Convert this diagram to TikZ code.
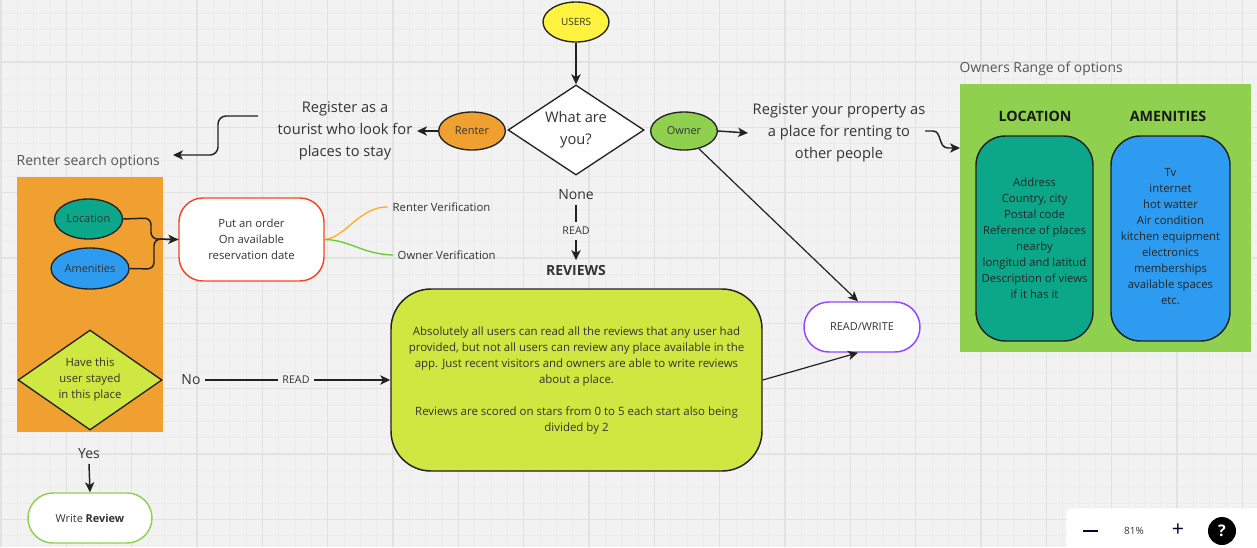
\documentclass[tikz,border=0pt]{standalone}
\usepackage{fontspec}
\setmainfont{Open Sans}
\usetikzlibrary{shapes.geometric,arrows.meta}
\definecolor{bg}{HTML}{F2F2F2}
\definecolor{gminor}{HTML}{EBEBEB}
\definecolor{gmajor}{HTML}{E2E2E2}
\definecolor{ink}{HTML}{222222}
\definecolor{txt}{HTML}{333333}
\definecolor{gtxt}{HTML}{555555}
\definecolor{cyellow}{HTML}{FFF33F}
\definecolor{corange}{HTML}{F0A030}
\definecolor{cgreen}{HTML}{8FD14F}
\definecolor{cteal}{HTML}{0CA789}
\definecolor{cblue}{HTML}{2D9BF0}
\definecolor{clime}{HTML}{CEE741}
\definecolor{cred}{HTML}{F24726}
\definecolor{cpurple}{HTML}{9146FF}
\definecolor{cnavy}{HTML}{050038}
\definecolor{curveor}{HTML}{FFB020}
\definecolor{curvegr}{HTML}{66CC33}
\newcommand\myfs[2]{\fontsize{#1}{#2}\selectfont}
\tikzset{
  ell/.style={ellipse, draw=ink, line width=1pt, inner sep=0pt, text=txt, font=\myfs{8.2}{10}},
  diam/.style={diamond, draw=ink, line width=1pt, inner sep=0pt},
  conn/.style={draw=ink, line width=1.1pt, -{Stealth[length=7.5pt,width=7pt,inset=2pt]}},
  plainline/.style={draw=ink, line width=1.1pt},
  bigtext/.style={text=txt, align=center, font=\myfs{11}{16.5}},
  midtext/.style={text=txt, align=center, font=\myfs{10.5}{15}},
  smalltext/.style={text=txt, align=center, font=\myfs{8.5}{12}},
  tinytext/.style={text=txt, align=center, font=\myfs{8}{11}},
  boxtext/.style={text=black!85, align=center, font=\myfs{8.5}{12}},
  stadium/.style={rectangle, rounded corners=18.75pt, minimum width=#1, minimum height=37.5pt, inner sep=0pt, fill=white, line width=1.1pt, text=txt, font=\myfs{8.2}{10}},
}
\begin{document}
\begin{tikzpicture}[x=0.75pt,y=-0.75pt]
\useasboundingbox (0,0) rectangle (1257,547);
\fill[bg] (0,0) rectangle (1257,547);
\begin{scope}
\clip (0,0) rectangle (1257,547);
\foreach \i in {0,...,77} \draw[gminor, line width=0.6pt] ({1+\i*16.333},0) -- ({1+\i*16.333},547);
\foreach \j in {0,...,34} \draw[gminor, line width=0.6pt] (0,{-3.33+\j*16.333}) -- (1257,{-3.33+\j*16.333});
\foreach \i in {0,...,19} \draw[gmajor, line width=1pt] ({1+\i*65.333},0) -- ({1+\i*65.333},547);
\foreach \j in {0,...,8} \draw[gmajor, line width=1pt] (0,{-3.33+\j*65.333}) -- (1257,{-3.33+\j*65.333});
\end{scope}

% ---- top flow
\node[ell, fill=cyellow, minimum width=49.5pt, minimum height=30pt, font=\myfs{7.5}{9}] (users) at (576,22) {USERS};
\node[diam, fill=white, minimum width=102pt, minimum height=67.5pt] (q) at (576,130) {};
\node[midtext, font=\myfs{11}{16.5}] (qt) at (576,130) {What are\\you?};
\draw[conn] (users.south) -- (q.north);

\node[ell, fill=corange, minimum width=50pt, minimum height=28.5pt] (renter) at (472,131) {Renter};
\node[ell, fill=cgreen, minimum width=50pt, minimum height=28.5pt] (owner) at (684,131) {Owner};

\node[bigtext] (rtext) at (345,131) {Register as a\\tourist who look for\\places to stay};
\node[bigtext] (otext) at (839,133) {Register your property as\\a place for renting to\\other people};
\draw[conn] (renter.west) -- (rtext.east);
\draw[conn] (owner.east) -- (otext.west);

% ---- renter search options
\node[anchor=west, text=gtxt, font=\myfs{10.5}{12}] (rslabel) at (12,162) {Renter search options};
\coordinate (rs1) at (258,116);
\coordinate (rs2) at (173,155);
\draw[conn, rounded corners=6pt] (rs1) -- (218,116) -- (218,155) -- (rs2);

\node[rectangle, fill=corange, minimum width=109.5pt, minimum height=191.25pt, inner sep=0pt] (rsbox) at (90,304.5) {};
\node[ell, fill=cteal, minimum width=51pt, minimum height=30pt] (loc) at (88.5,219) {Location};
\node[ell, fill=cblue, minimum width=58.5pt, minimum height=30.75pt] (amen) at (90,268.5) {Amenities};
\node[rectangle, draw=cred, line width=1.1pt, fill=white, rounded corners=18pt, minimum width=108.75pt, minimum height=62.25pt, inner sep=0pt] (order) at (251.5,239.5) {};
\node[smalltext] (ordert) at (251.5,239.5) {Put an order\\On available\\reservation date};
\draw[plainline, rounded corners=5pt] (loc.east) -- (151,218) -- (151,239) -- (order.west);
\draw[conn, rounded corners=5pt] (amen.east) -- (154,269) -- (154,239) -- (order.west);

\node[tinytext, font=\myfs{8.5}{11}, anchor=west] (rver) at (388,207) {Renter Verification};
\node[tinytext, font=\myfs{8.5}{11}, anchor=west] (over) at (393,255) {Owner Verification};
\draw[draw=curveor, line width=1pt] (order.east) .. controls (345,238) and (360,206) .. (rver.west);
\draw[draw=curvegr, line width=1pt] (order.east) .. controls (350,240) and (362,254) .. (over.west);

\node[diam, fill=clime, minimum width=108pt, minimum height=75pt] (stay) at (90,380) {};
\node[smalltext] (stayt) at (90,380) {Have this\\user stayed\\in this place};

\node[midtext] (yes) at (89,454) {Yes};
\node[stadium=93pt, draw=cgreen] (write) at (90,518) {Write \textbf{Review}};
\draw[conn] (yes.south) -- (write.north);

\node[midtext] (no) at (191,380) {No};
\node[tinytext] (read1) at (296,380) {READ};

% ---- reviews
\node[midtext] (none) at (576,195) {None};
\node[tinytext] (read2) at (576,231) {READ};
\node[midtext, font=\bfseries\myfs{10.5}{12}] (revt) at (576,270) {REVIEWS};
\draw[plainline] (none.south) -- (read2.north);
\draw[conn] (read2.south) -- (revt.north);

\node[rectangle, draw=ink, line width=1.1pt, fill=clime, rounded corners=30pt, minimum width=278.25pt, minimum height=136.5pt, inner sep=0pt] (rev) at (576.5,380) {};
\node[boxtext, font=\myfs{8.6}{12}, text=txt] (revtext) at (576.5,381) {Absolutely all users can read all the reviews that any user had\\provided, but not all users can review any place available in the\\app. Just recent visitors and owners are able to write reviews\\about a place.\\[12pt]Reviews are scored on stars from 0 to 5 each start also being\\divided by 2};

\draw[plainline] (no.east) -- (read1.west);
\draw[conn] (read1.east) -- (rev.west);

\node[stadium=87pt, draw=cpurple] (rw) at (862,327) {READ/WRITE};
\draw[conn, line width=0.9pt] (owner.-50) -- ([xshift=-3pt]rw.north);
\draw[conn, line width=0.9pt] (rev.east) -- ([xshift=-3pt]rw.south);

% ---- owners range of options
\node[anchor=west, text=gtxt, font=\myfs{10.4}{12}] (owlabel) at (955,69) {Owners Range of options};
\node[rectangle, fill=cgreen, minimum width=218.25pt, minimum height=201pt, inner sep=0pt] (ownbox) at (1105.5,218) {};
\coordinate (os1) at (925,131);
\coordinate (os2) at (960,148);
\draw[conn] (os1) -- (933,131) .. controls (942,131) and (938,148) .. (948,148) -- (os2);

\node[text=black!90, font=\bfseries\myfs{10.7}{12}] (loct) at (1035,116) {LOCATION};
\node[text=black!90, font=\bfseries\myfs{10.7}{12}] (amt) at (1168,116) {AMENITIES};
\node[rectangle, draw=ink, line width=1.1pt, fill=cteal, rounded corners=22pt, minimum width=87.75pt, minimum height=153.75pt, inner sep=0pt] (locbox) at (1034.5,238.5) {};
\node[rectangle, draw=ink, line width=1.1pt, fill=cblue, rounded corners=22pt, minimum width=89.25pt, minimum height=153.75pt, inner sep=0pt] (ambox) at (1170.5,238.5) {};
\node[boxtext] (loctext) at (1034.5,238) {Address\\Country, city\\Postal code\\Reference of places\\nearby\\longitud and latitud\\Description of views\\if it has it};
\node[boxtext] (amtext) at (1170.5,237) {Tv\\internet\\hot watter\\Air condition\\kitchen equipment\\electronics\\memberships\\available spaces\\etc.};

% ---- zoom widget
\node[rectangle, fill=white, rounded corners=4pt, minimum width=160pt, minimum height=36pt, inner sep=0pt, anchor=north west] (widget) at (1066,508) {};
\draw[cnavy, line width=1.5pt] (1083,531) -- (1098,531);
\node[text=black!80, font=\myfs{7.5}{9}] (pct) at (1134,531) {81\%};
\node[text=cnavy, font=\myfs{16}{16}] (plus) at (1178,530) {+};
\node[circle, fill=black, minimum size=21pt, inner sep=0pt, text=white, font=\bfseries\myfs{12}{12}] (help) at (1222,531) {?};
\end{tikzpicture}
\end{document}
